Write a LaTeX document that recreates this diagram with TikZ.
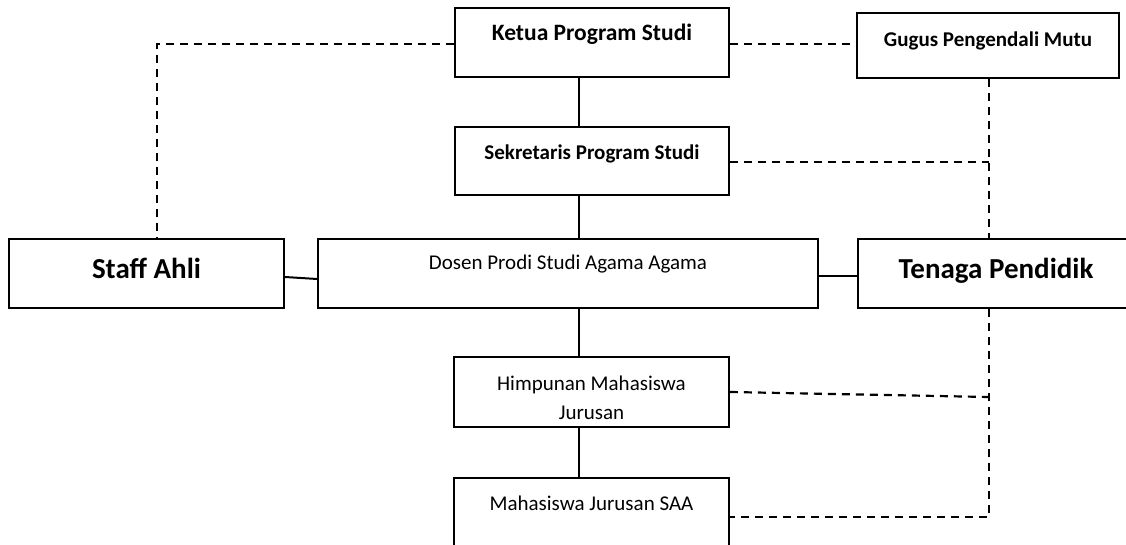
\documentclass[tikz,border=0pt]{standalone}
\usepackage{fontspec}
\setmainfont{Carlito}
\usetikzlibrary{positioning}

\begin{document}
\begin{tikzpicture}[
  x=1bp, y=-1bp,
  box/.style={draw, line width=1.8bp, inner sep=0pt, align=center},
  big/.style={font=\bfseries\fontsize{29bp}{34bp}\selectfont},
  head/.style={font=\bfseries\fontsize{23.5bp}{28bp}\selectfont},
  sub/.style={font=\bfseries\fontsize{21bp}{26bp}\selectfont},
  plain/.style={font=\fontsize{21bp}{29bp}\selectfont},
  ln/.style={line width=2bp},
  dln/.style={line width=2.2bp, dash pattern=on 8bp off 6bp},
]
  \useasboundingbox (0,0) rectangle (1126,545);

  % kotak
  \node[box, head, minimum width=274bp, text height=33bp, text depth=36bp]
      (kaprodi) at (592,42.5) {Ketua Program Studi};
  \node[box, sub, minimum width=262bp, text height=34bp, text depth=31bp]
      (gpm) at (988,45.5) {Gugus Pengendali Mutu};
  \node[box, sub, minimum width=274bp, text height=33bp, text depth=35bp]
      (sekprodi) at (592,161) {Sekretaris Program Studi};
  \node[box, big, minimum width=275bp, text height=40bp, text depth=29bp]
      (staff) at (146.5,273.5) {Staff Ahli};
  \node[box, plain, minimum width=500bp, text height=31bp, text depth=38bp]
      (dosen) at (568,273.5) {Dosen Prodi Studi Agama Agama};
  \node[box, big, minimum width=276bp, text height=40bp, text depth=29bp]
      (tendik) at (996,273.5) {Tenaga Pendidik};
  \node[box, plain, minimum width=275bp, text height=62bp, text depth=8bp]
      (hmj) at (591.5,392) {Himpunan Mahasiswa\\Jurusan};
  \node[box, plain, minimum width=275bp, text height=32bp, text depth=37bp]
      (mhs) at (591.5,512.5) {Mahasiswa Jurusan SAA};

  % garis
  \coordinate (spine) at (579,0);
  \coordinate (rail) at (989,0);
  \draw[ln] (kaprodi.south -| spine) -- (sekprodi.north -| spine);
  \draw[ln] (sekprodi.south -| spine) -- (dosen.north -| spine);
  \draw[ln] (dosen.south -| spine) -- (hmj.north -| spine);
  \draw[ln] (hmj.south -| spine) -- (mhs.north -| spine);
  \draw[ln] ([yshift=-3.5bp]staff.east) -- ([yshift=-5.5bp]dosen.west);
  \draw[ln] ([yshift=-3bp]dosen.east) -- ([yshift=-3bp]tendik.west);

  % garis putus
  \draw[dln] ([yshift=-1.5bp]kaprodi.west) -| ([xshift=10.5bp]staff.north);
  \draw[dln] ([yshift=-1.5bp]kaprodi.east) -- ([yshift=-1.5bp]kaprodi.east -| gpm.west);
  \draw[dln] (gpm.south -| rail) -- (tendik.north -| rail);
  \draw[dln] ([yshift=-1bp]sekprodi.east) -- ([yshift=-1bp]sekprodi.east -| rail);
  \draw[dln] (tendik.south -| rail) -- ([yshift=-4.5bp]mhs.east -| rail)
      -- ([yshift=-4.5bp]mhs.east);
  \draw[dln] (hmj.east) -- ([yshift=-5bp]hmj.east -| rail);
\end{tikzpicture}
\end{document}
